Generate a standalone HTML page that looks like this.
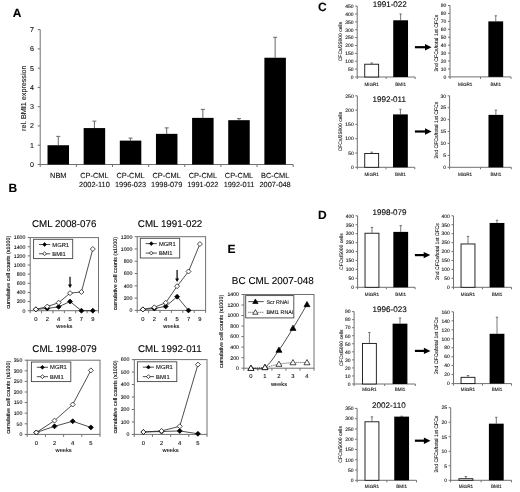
<!DOCTYPE html>
<html><head><meta charset="utf-8"><style>
html,body{margin:0;padding:0;background:#fff;}
svg{display:block;font-family:"Liberation Sans", sans-serif;text-rendering:geometricPrecision;filter:blur(0.3px);}
text{stroke:currentColor;stroke-width:0.1px;}
</style></head><body>
<svg width="520" height="492" viewBox="0 0 520 492">
<rect width="520" height="492" fill="#fff"/>
<text x="17" y="17.36" font-size="12" text-anchor="middle" font-weight="bold">A</text>
<line x1="40.2" y1="29.61" x2="40.2" y2="164.5" stroke="#707070" stroke-width="1"/>
<line x1="40.2" y1="164.5" x2="293.2" y2="164.5" stroke="#707070" stroke-width="1"/>
<line x1="37.7" y1="164.5" x2="40.2" y2="164.5" stroke="#707070" stroke-width="1"/>
<text x="34" y="167.02" font-size="7.1" text-anchor="end" fill="#111">0</text>
<line x1="37.7" y1="145.23" x2="40.2" y2="145.23" stroke="#707070" stroke-width="1"/>
<text x="34" y="147.75" font-size="7.1" text-anchor="end" fill="#111">1</text>
<line x1="37.7" y1="125.96" x2="40.2" y2="125.96" stroke="#707070" stroke-width="1"/>
<text x="34" y="128.48" font-size="7.1" text-anchor="end" fill="#111">2</text>
<line x1="37.7" y1="106.69" x2="40.2" y2="106.69" stroke="#707070" stroke-width="1"/>
<text x="34" y="109.21" font-size="7.1" text-anchor="end" fill="#111">3</text>
<line x1="37.7" y1="87.42" x2="40.2" y2="87.42" stroke="#707070" stroke-width="1"/>
<text x="34" y="89.94" font-size="7.1" text-anchor="end" fill="#111">4</text>
<line x1="37.7" y1="68.15" x2="40.2" y2="68.15" stroke="#707070" stroke-width="1"/>
<text x="34" y="70.67" font-size="7.1" text-anchor="end" fill="#111">5</text>
<line x1="37.7" y1="48.88" x2="40.2" y2="48.88" stroke="#707070" stroke-width="1"/>
<text x="34" y="51.4" font-size="7.1" text-anchor="end" fill="#111">6</text>
<line x1="37.7" y1="29.61" x2="40.2" y2="29.61" stroke="#707070" stroke-width="1"/>
<text x="34" y="32.13" font-size="7.1" text-anchor="end" fill="#111">7</text>
<line x1="40.2" y1="164.5" x2="40.2" y2="167" stroke="#707070" stroke-width="1"/>
<line x1="76.34" y1="164.5" x2="76.34" y2="167" stroke="#707070" stroke-width="1"/>
<line x1="112.49" y1="164.5" x2="112.49" y2="167" stroke="#707070" stroke-width="1"/>
<line x1="148.63" y1="164.5" x2="148.63" y2="167" stroke="#707070" stroke-width="1"/>
<line x1="184.77" y1="164.5" x2="184.77" y2="167" stroke="#707070" stroke-width="1"/>
<line x1="220.91" y1="164.5" x2="220.91" y2="167" stroke="#707070" stroke-width="1"/>
<line x1="257.06" y1="164.5" x2="257.06" y2="167" stroke="#707070" stroke-width="1"/>
<line x1="293.2" y1="164.5" x2="293.2" y2="167" stroke="#707070" stroke-width="1"/>
<line x1="58.27" y1="136.37" x2="58.27" y2="145.23" stroke="#666" stroke-width="1"/>
<line x1="56.27" y1="136.37" x2="60.27" y2="136.37" stroke="#666" stroke-width="1"/>
<rect x="47.52" y="145.23" width="21.5" height="19.27" fill="#000"/>
<text x="58.27" y="177.83" font-size="7.4" text-anchor="middle" fill="#111">NBM</text>
<line x1="94.41" y1="121.14" x2="94.41" y2="128.08" stroke="#666" stroke-width="1"/>
<line x1="92.41" y1="121.14" x2="96.41" y2="121.14" stroke="#666" stroke-width="1"/>
<rect x="83.66" y="128.08" width="21.5" height="36.42" fill="#000"/>
<text x="94.41" y="177.83" font-size="7.4" text-anchor="middle" fill="#111">CP-CML</text>
<text x="94.41" y="186.93" font-size="7.4" text-anchor="middle" fill="#111">2002-110</text>
<line x1="130.56" y1="138.1" x2="130.56" y2="140.61" stroke="#666" stroke-width="1"/>
<line x1="128.56" y1="138.1" x2="132.56" y2="138.1" stroke="#666" stroke-width="1"/>
<rect x="119.81" y="140.61" width="21.5" height="23.89" fill="#000"/>
<text x="130.56" y="177.83" font-size="7.4" text-anchor="middle" fill="#111">CP-CML</text>
<text x="130.56" y="186.93" font-size="7.4" text-anchor="middle" fill="#111">1996-023</text>
<line x1="166.7" y1="127.89" x2="166.7" y2="133.86" stroke="#666" stroke-width="1"/>
<line x1="164.7" y1="127.89" x2="168.7" y2="127.89" stroke="#666" stroke-width="1"/>
<rect x="155.95" y="133.86" width="21.5" height="30.64" fill="#000"/>
<text x="166.7" y="177.83" font-size="7.4" text-anchor="middle" fill="#111">CP-CML</text>
<text x="166.7" y="186.93" font-size="7.4" text-anchor="middle" fill="#111">1998-079</text>
<line x1="202.84" y1="109.39" x2="202.84" y2="117.87" stroke="#666" stroke-width="1"/>
<line x1="200.84" y1="109.39" x2="204.84" y2="109.39" stroke="#666" stroke-width="1"/>
<rect x="192.09" y="117.87" width="21.5" height="46.63" fill="#000"/>
<text x="202.84" y="177.83" font-size="7.4" text-anchor="middle" fill="#111">CP-CML</text>
<text x="202.84" y="186.93" font-size="7.4" text-anchor="middle" fill="#111">1991-022</text>
<line x1="238.99" y1="118.64" x2="238.99" y2="120.18" stroke="#666" stroke-width="1"/>
<line x1="236.99" y1="118.64" x2="240.99" y2="118.64" stroke="#666" stroke-width="1"/>
<rect x="228.24" y="120.18" width="21.5" height="44.32" fill="#000"/>
<text x="238.99" y="177.83" font-size="7.4" text-anchor="middle" fill="#111">CP-CML</text>
<text x="238.99" y="186.93" font-size="7.4" text-anchor="middle" fill="#111">1992-011</text>
<line x1="275.13" y1="37.32" x2="275.13" y2="57.74" stroke="#666" stroke-width="1"/>
<line x1="273.13" y1="37.32" x2="277.13" y2="37.32" stroke="#666" stroke-width="1"/>
<rect x="264.38" y="57.74" width="21.5" height="106.76" fill="#000"/>
<text x="275.13" y="177.83" font-size="7.4" text-anchor="middle" fill="#111">BC-CML</text>
<text x="275.13" y="186.93" font-size="7.4" text-anchor="middle" fill="#111">2007-048</text>
<text x="23.3" y="100.76" font-size="7.2" text-anchor="middle" transform="rotate(-90 23.3 98.2)" fill="#111">rel. BMI1 expression</text>
<text x="12.8" y="191.76" font-size="12" text-anchor="middle" font-weight="bold">B</text>
<rect x="30.2" y="237.6" width="68.3" height="73.1" fill="#fff" stroke="#707070" stroke-width="1"/>
<line x1="27.7" y1="310.7" x2="30.2" y2="310.7" stroke="#707070" stroke-width="1"/>
<text x="25.3" y="312.55" font-size="5.2" text-anchor="end" fill="#111">0</text>
<line x1="27.7" y1="301.56" x2="30.2" y2="301.56" stroke="#707070" stroke-width="1"/>
<text x="25.3" y="303.41" font-size="5.2" text-anchor="end" fill="#111">200</text>
<line x1="27.7" y1="292.43" x2="30.2" y2="292.43" stroke="#707070" stroke-width="1"/>
<text x="25.3" y="294.27" font-size="5.2" text-anchor="end" fill="#111">400</text>
<line x1="27.7" y1="283.29" x2="30.2" y2="283.29" stroke="#707070" stroke-width="1"/>
<text x="25.3" y="285.13" font-size="5.2" text-anchor="end" fill="#111">600</text>
<line x1="27.7" y1="274.15" x2="30.2" y2="274.15" stroke="#707070" stroke-width="1"/>
<text x="25.3" y="276" font-size="5.2" text-anchor="end" fill="#111">800</text>
<line x1="27.7" y1="265.01" x2="30.2" y2="265.01" stroke="#707070" stroke-width="1"/>
<text x="25.3" y="266.86" font-size="5.2" text-anchor="end" fill="#111">1000</text>
<line x1="27.7" y1="255.88" x2="30.2" y2="255.88" stroke="#707070" stroke-width="1"/>
<text x="25.3" y="257.72" font-size="5.2" text-anchor="end" fill="#111">1200</text>
<line x1="27.7" y1="246.74" x2="30.2" y2="246.74" stroke="#707070" stroke-width="1"/>
<text x="25.3" y="248.58" font-size="5.2" text-anchor="end" fill="#111">1400</text>
<line x1="27.7" y1="237.6" x2="30.2" y2="237.6" stroke="#707070" stroke-width="1"/>
<text x="25.3" y="239.45" font-size="5.2" text-anchor="end" fill="#111">1600</text>
<line x1="30.2" y1="310.7" x2="30.2" y2="313.2" stroke="#707070" stroke-width="1"/>
<line x1="41.58" y1="310.7" x2="41.58" y2="313.2" stroke="#707070" stroke-width="1"/>
<line x1="52.97" y1="310.7" x2="52.97" y2="313.2" stroke="#707070" stroke-width="1"/>
<line x1="64.35" y1="310.7" x2="64.35" y2="313.2" stroke="#707070" stroke-width="1"/>
<line x1="75.73" y1="310.7" x2="75.73" y2="313.2" stroke="#707070" stroke-width="1"/>
<line x1="87.12" y1="310.7" x2="87.12" y2="313.2" stroke="#707070" stroke-width="1"/>
<line x1="98.5" y1="310.7" x2="98.5" y2="313.2" stroke="#707070" stroke-width="1"/>
<text x="35.89" y="320.96" font-size="5.8" text-anchor="middle" fill="#111">0</text>
<text x="47.27" y="320.96" font-size="5.8" text-anchor="middle" fill="#111">2</text>
<text x="58.66" y="320.96" font-size="5.8" text-anchor="middle" fill="#111">4</text>
<text x="70.04" y="320.96" font-size="5.8" text-anchor="middle" fill="#111">5</text>
<text x="81.42" y="320.96" font-size="5.8" text-anchor="middle" fill="#111">7</text>
<text x="92.81" y="320.96" font-size="5.8" text-anchor="middle" fill="#111">9</text>
<text x="64.35" y="328.32" font-size="5.7" text-anchor="middle" fill="#111">weeks</text>
<text x="8.2" y="274.08" font-size="5.45" text-anchor="middle" transform="rotate(-90 8.2 272.15)" fill="#111">cumulative cell counts (x1000)</text>
<text x="64.2" y="226.68" font-size="9.8" text-anchor="middle">CML 2008-076</text>
<polyline points="35.89,309.33 47.27,308.42 58.66,306.82 70.04,301.56 81.42,310.7 92.81,310.7" fill="none" stroke="#222" stroke-width="0.8"/>
<polyline points="35.89,309.33 47.27,306.59 58.66,302.7 70.04,293.11 81.42,291.97 92.81,249.02" fill="none" stroke="#222" stroke-width="0.8"/>
<polygon points="35.89,306.83 38.39,309.33 35.89,311.83 33.39,309.33" fill="#000" stroke="#000" stroke-width="0.7"/>
<polygon points="47.27,305.92 49.77,308.42 47.27,310.92 44.77,308.42" fill="#000" stroke="#000" stroke-width="0.7"/>
<polygon points="58.66,304.32 61.16,306.82 58.66,309.32 56.16,306.82" fill="#000" stroke="#000" stroke-width="0.7"/>
<polygon points="70.04,299.06 72.54,301.56 70.04,304.06 67.54,301.56" fill="#000" stroke="#000" stroke-width="0.7"/>
<polygon points="81.42,308.2 83.92,310.7 81.42,313.2 78.92,310.7" fill="#000" stroke="#000" stroke-width="0.7"/>
<polygon points="92.81,308.2 95.31,310.7 92.81,313.2 90.31,310.7" fill="#000" stroke="#000" stroke-width="0.7"/>
<polygon points="35.89,306.83 38.39,309.33 35.89,311.83 33.39,309.33" fill="#fff" stroke="#000" stroke-width="0.7"/>
<polygon points="47.27,304.09 49.77,306.59 47.27,309.09 44.77,306.59" fill="#fff" stroke="#000" stroke-width="0.7"/>
<polygon points="58.66,300.2 61.16,302.7 58.66,305.2 56.16,302.7" fill="#fff" stroke="#000" stroke-width="0.7"/>
<polygon points="70.04,290.61 72.54,293.11 70.04,295.61 67.54,293.11" fill="#fff" stroke="#000" stroke-width="0.7"/>
<polygon points="81.42,289.47 83.92,291.97 81.42,294.47 78.92,291.97" fill="#fff" stroke="#000" stroke-width="0.7"/>
<polygon points="92.81,246.52 95.31,249.02 92.81,251.52 90.31,249.02" fill="#fff" stroke="#000" stroke-width="0.7"/>
<rect x="33.6" y="239.3" width="39.1" height="19.3" fill="#fff" stroke="#444" stroke-width="0.9"/>
<line x1="39" y1="244.51" x2="50.2" y2="244.51" stroke="#222" stroke-width="0.8"/>
<polygon points="44.6,242.61 46.5,244.51 44.6,246.41 42.7,244.51" fill="#000" stroke="#000" stroke-width="0.7"/>
<text x="52.3" y="246.57" font-size="5.8" text-anchor="start" fill="#111">MGR1</text>
<line x1="39" y1="253.78" x2="50.2" y2="253.78" stroke="#222" stroke-width="0.8"/>
<polygon points="44.6,251.88 46.5,253.78 44.6,255.68 42.7,253.78" fill="#fff" stroke="#000" stroke-width="0.7"/>
<text x="52.3" y="255.83" font-size="5.8" text-anchor="start" fill="#111">BMI1</text>
<line x1="70.04" y1="276.7" x2="70.04" y2="285" stroke="#000" stroke-width="1.2"/>
<polygon points="68.04,284.5 72.04,284.5 70.04,288" fill="#000" stroke="none" stroke-width="1"/>
<rect x="137.2" y="236.7" width="68.4" height="73.7" fill="#fff" stroke="#707070" stroke-width="1"/>
<line x1="134.7" y1="310.4" x2="137.2" y2="310.4" stroke="#707070" stroke-width="1"/>
<text x="132.3" y="312.25" font-size="5.2" text-anchor="end" fill="#111">0</text>
<line x1="134.7" y1="298.12" x2="137.2" y2="298.12" stroke="#707070" stroke-width="1"/>
<text x="132.3" y="299.96" font-size="5.2" text-anchor="end" fill="#111">200</text>
<line x1="134.7" y1="285.83" x2="137.2" y2="285.83" stroke="#707070" stroke-width="1"/>
<text x="132.3" y="287.68" font-size="5.2" text-anchor="end" fill="#111">400</text>
<line x1="134.7" y1="273.55" x2="137.2" y2="273.55" stroke="#707070" stroke-width="1"/>
<text x="132.3" y="275.4" font-size="5.2" text-anchor="end" fill="#111">600</text>
<line x1="134.7" y1="261.27" x2="137.2" y2="261.27" stroke="#707070" stroke-width="1"/>
<text x="132.3" y="263.11" font-size="5.2" text-anchor="end" fill="#111">800</text>
<line x1="134.7" y1="248.98" x2="137.2" y2="248.98" stroke="#707070" stroke-width="1"/>
<text x="132.3" y="250.83" font-size="5.2" text-anchor="end" fill="#111">1000</text>
<line x1="134.7" y1="236.7" x2="137.2" y2="236.7" stroke="#707070" stroke-width="1"/>
<text x="132.3" y="238.55" font-size="5.2" text-anchor="end" fill="#111">1200</text>
<line x1="137.2" y1="310.4" x2="137.2" y2="312.9" stroke="#707070" stroke-width="1"/>
<line x1="148.6" y1="310.4" x2="148.6" y2="312.9" stroke="#707070" stroke-width="1"/>
<line x1="160" y1="310.4" x2="160" y2="312.9" stroke="#707070" stroke-width="1"/>
<line x1="171.4" y1="310.4" x2="171.4" y2="312.9" stroke="#707070" stroke-width="1"/>
<line x1="182.8" y1="310.4" x2="182.8" y2="312.9" stroke="#707070" stroke-width="1"/>
<line x1="194.2" y1="310.4" x2="194.2" y2="312.9" stroke="#707070" stroke-width="1"/>
<line x1="205.6" y1="310.4" x2="205.6" y2="312.9" stroke="#707070" stroke-width="1"/>
<text x="142.9" y="320.66" font-size="5.8" text-anchor="middle" fill="#111">0</text>
<text x="154.3" y="320.66" font-size="5.8" text-anchor="middle" fill="#111">2</text>
<text x="165.7" y="320.66" font-size="5.8" text-anchor="middle" fill="#111">4</text>
<text x="177.1" y="320.66" font-size="5.8" text-anchor="middle" fill="#111">5</text>
<text x="188.5" y="320.66" font-size="5.8" text-anchor="middle" fill="#111">7</text>
<text x="199.9" y="320.66" font-size="5.8" text-anchor="middle" fill="#111">9</text>
<text x="171.4" y="328.02" font-size="5.7" text-anchor="middle" fill="#111">weeks</text>
<text x="115.1" y="275.48" font-size="5.45" text-anchor="middle" transform="rotate(-90 115.1 273.55)" fill="#111">cumulative cell counts (x1000)</text>
<text x="170.1" y="227.18" font-size="9.8" text-anchor="middle">CML 1991-022</text>
<polyline points="142.9,309.42 154.3,308.56 165.7,306.41 177.1,296.7 188.5,310.4" fill="none" stroke="#222" stroke-width="0.8"/>
<polyline points="142.9,309.42 154.3,307.33 165.7,302.78 177.1,286.2 188.5,271.52 199.9,244.07" fill="none" stroke="#222" stroke-width="0.8"/>
<polygon points="142.9,306.92 145.4,309.42 142.9,311.92 140.4,309.42" fill="#000" stroke="#000" stroke-width="0.7"/>
<polygon points="154.3,306.06 156.8,308.56 154.3,311.06 151.8,308.56" fill="#000" stroke="#000" stroke-width="0.7"/>
<polygon points="165.7,303.91 168.2,306.41 165.7,308.91 163.2,306.41" fill="#000" stroke="#000" stroke-width="0.7"/>
<polygon points="177.1,294.2 179.6,296.7 177.1,299.2 174.6,296.7" fill="#000" stroke="#000" stroke-width="0.7"/>
<polygon points="188.5,307.9 191,310.4 188.5,312.9 186,310.4" fill="#000" stroke="#000" stroke-width="0.7"/>
<polygon points="142.9,306.92 145.4,309.42 142.9,311.92 140.4,309.42" fill="#fff" stroke="#000" stroke-width="0.7"/>
<polygon points="154.3,304.83 156.8,307.33 154.3,309.83 151.8,307.33" fill="#fff" stroke="#000" stroke-width="0.7"/>
<polygon points="165.7,300.28 168.2,302.78 165.7,305.28 163.2,302.78" fill="#fff" stroke="#000" stroke-width="0.7"/>
<polygon points="177.1,283.7 179.6,286.2 177.1,288.7 174.6,286.2" fill="#fff" stroke="#000" stroke-width="0.7"/>
<polygon points="188.5,269.02 191,271.52 188.5,274.02 186,271.52" fill="#fff" stroke="#000" stroke-width="0.7"/>
<polygon points="199.9,241.57 202.4,244.07 199.9,246.57 197.4,244.07" fill="#fff" stroke="#000" stroke-width="0.7"/>
<rect x="140.3" y="238.3" width="39.4" height="19.7" fill="#fff" stroke="#444" stroke-width="0.9"/>
<line x1="145.7" y1="243.62" x2="156.9" y2="243.62" stroke="#222" stroke-width="0.8"/>
<polygon points="151.3,241.72 153.2,243.62 151.3,245.52 149.4,243.62" fill="#000" stroke="#000" stroke-width="0.7"/>
<text x="159" y="245.68" font-size="5.8" text-anchor="start" fill="#111">MGR1</text>
<line x1="145.7" y1="253.07" x2="156.9" y2="253.07" stroke="#222" stroke-width="0.8"/>
<polygon points="151.3,251.17 153.2,253.07 151.3,254.97 149.4,253.07" fill="#fff" stroke="#000" stroke-width="0.7"/>
<text x="159" y="255.13" font-size="5.8" text-anchor="start" fill="#111">BMI1</text>
<line x1="177.1" y1="270" x2="177.1" y2="279" stroke="#000" stroke-width="1.2"/>
<polygon points="175.1,278.5 179.1,278.5 177.1,282" fill="#000" stroke="none" stroke-width="1"/>
<rect x="27.2" y="360.2" width="72.8" height="74.2" fill="#fff" stroke="#707070" stroke-width="1"/>
<line x1="24.7" y1="434.4" x2="27.2" y2="434.4" stroke="#707070" stroke-width="1"/>
<text x="22.3" y="436.25" font-size="5.2" text-anchor="end" fill="#111">0</text>
<line x1="24.7" y1="423.8" x2="27.2" y2="423.8" stroke="#707070" stroke-width="1"/>
<text x="22.3" y="425.65" font-size="5.2" text-anchor="end" fill="#111">50</text>
<line x1="24.7" y1="413.2" x2="27.2" y2="413.2" stroke="#707070" stroke-width="1"/>
<text x="22.3" y="415.05" font-size="5.2" text-anchor="end" fill="#111">100</text>
<line x1="24.7" y1="402.6" x2="27.2" y2="402.6" stroke="#707070" stroke-width="1"/>
<text x="22.3" y="404.45" font-size="5.2" text-anchor="end" fill="#111">150</text>
<line x1="24.7" y1="392" x2="27.2" y2="392" stroke="#707070" stroke-width="1"/>
<text x="22.3" y="393.85" font-size="5.2" text-anchor="end" fill="#111">200</text>
<line x1="24.7" y1="381.4" x2="27.2" y2="381.4" stroke="#707070" stroke-width="1"/>
<text x="22.3" y="383.25" font-size="5.2" text-anchor="end" fill="#111">250</text>
<line x1="24.7" y1="370.8" x2="27.2" y2="370.8" stroke="#707070" stroke-width="1"/>
<text x="22.3" y="372.65" font-size="5.2" text-anchor="end" fill="#111">300</text>
<line x1="24.7" y1="360.2" x2="27.2" y2="360.2" stroke="#707070" stroke-width="1"/>
<text x="22.3" y="362.05" font-size="5.2" text-anchor="end" fill="#111">350</text>
<line x1="27.2" y1="434.4" x2="27.2" y2="436.9" stroke="#707070" stroke-width="1"/>
<line x1="45.4" y1="434.4" x2="45.4" y2="436.9" stroke="#707070" stroke-width="1"/>
<line x1="63.6" y1="434.4" x2="63.6" y2="436.9" stroke="#707070" stroke-width="1"/>
<line x1="81.8" y1="434.4" x2="81.8" y2="436.9" stroke="#707070" stroke-width="1"/>
<line x1="100" y1="434.4" x2="100" y2="436.9" stroke="#707070" stroke-width="1"/>
<text x="36.3" y="444.66" font-size="5.8" text-anchor="middle" fill="#111">0</text>
<text x="54.5" y="444.66" font-size="5.8" text-anchor="middle" fill="#111">2</text>
<text x="72.7" y="444.66" font-size="5.8" text-anchor="middle" fill="#111">4</text>
<text x="90.9" y="444.66" font-size="5.8" text-anchor="middle" fill="#111">5</text>
<text x="63.6" y="452.02" font-size="5.7" text-anchor="middle" fill="#111">weeks</text>
<text x="7.7" y="399.23" font-size="5.45" text-anchor="middle" transform="rotate(-90 7.7 397.3)" fill="#111">cumulative cell counts (x1000)</text>
<text x="64.6" y="351.88" font-size="9.8" text-anchor="middle">CML 1998-079</text>
<polyline points="36.3,432.49 54.5,426.34 72.7,421.26 90.9,427.4" fill="none" stroke="#222" stroke-width="0.8"/>
<polyline points="36.3,432.49 54.5,420.62 72.7,404.51 90.9,370.38" fill="none" stroke="#222" stroke-width="0.8"/>
<polygon points="36.3,429.99 38.8,432.49 36.3,434.99 33.8,432.49" fill="#000" stroke="#000" stroke-width="0.7"/>
<polygon points="54.5,423.84 57,426.34 54.5,428.84 52,426.34" fill="#000" stroke="#000" stroke-width="0.7"/>
<polygon points="72.7,418.76 75.2,421.26 72.7,423.76 70.2,421.26" fill="#000" stroke="#000" stroke-width="0.7"/>
<polygon points="90.9,424.9 93.4,427.4 90.9,429.9 88.4,427.4" fill="#000" stroke="#000" stroke-width="0.7"/>
<polygon points="36.3,429.99 38.8,432.49 36.3,434.99 33.8,432.49" fill="#fff" stroke="#000" stroke-width="0.7"/>
<polygon points="54.5,418.12 57,420.62 54.5,423.12 52,420.62" fill="#fff" stroke="#000" stroke-width="0.7"/>
<polygon points="72.7,402.01 75.2,404.51 72.7,407.01 70.2,404.51" fill="#fff" stroke="#000" stroke-width="0.7"/>
<polygon points="90.9,367.88 93.4,370.38 90.9,372.88 88.4,370.38" fill="#fff" stroke="#000" stroke-width="0.7"/>
<rect x="31.4" y="362" width="39.4" height="19.6" fill="#fff" stroke="#444" stroke-width="0.9"/>
<line x1="36.8" y1="367.29" x2="48" y2="367.29" stroke="#222" stroke-width="0.8"/>
<polygon points="42.4,365.39 44.3,367.29 42.4,369.19 40.5,367.29" fill="#000" stroke="#000" stroke-width="0.7"/>
<text x="50.1" y="369.35" font-size="5.8" text-anchor="start" fill="#111">MGR1</text>
<line x1="36.8" y1="376.7" x2="48" y2="376.7" stroke="#222" stroke-width="0.8"/>
<polygon points="42.4,374.8 44.3,376.7 42.4,378.6 40.5,376.7" fill="#fff" stroke="#000" stroke-width="0.7"/>
<text x="50.1" y="378.76" font-size="5.8" text-anchor="start" fill="#111">BMI1</text>
<rect x="134.3" y="359.6" width="72.7" height="74.8" fill="#fff" stroke="#707070" stroke-width="1"/>
<line x1="131.8" y1="434.4" x2="134.3" y2="434.4" stroke="#707070" stroke-width="1"/>
<text x="129.4" y="436.25" font-size="5.2" text-anchor="end" fill="#111">0</text>
<line x1="131.8" y1="421.93" x2="134.3" y2="421.93" stroke="#707070" stroke-width="1"/>
<text x="129.4" y="423.78" font-size="5.2" text-anchor="end" fill="#111">100</text>
<line x1="131.8" y1="409.47" x2="134.3" y2="409.47" stroke="#707070" stroke-width="1"/>
<text x="129.4" y="411.31" font-size="5.2" text-anchor="end" fill="#111">200</text>
<line x1="131.8" y1="397" x2="134.3" y2="397" stroke="#707070" stroke-width="1"/>
<text x="129.4" y="398.85" font-size="5.2" text-anchor="end" fill="#111">300</text>
<line x1="131.8" y1="384.53" x2="134.3" y2="384.53" stroke="#707070" stroke-width="1"/>
<text x="129.4" y="386.38" font-size="5.2" text-anchor="end" fill="#111">400</text>
<line x1="131.8" y1="372.07" x2="134.3" y2="372.07" stroke="#707070" stroke-width="1"/>
<text x="129.4" y="373.91" font-size="5.2" text-anchor="end" fill="#111">500</text>
<line x1="131.8" y1="359.6" x2="134.3" y2="359.6" stroke="#707070" stroke-width="1"/>
<text x="129.4" y="361.45" font-size="5.2" text-anchor="end" fill="#111">600</text>
<line x1="134.3" y1="434.4" x2="134.3" y2="436.9" stroke="#707070" stroke-width="1"/>
<line x1="152.48" y1="434.4" x2="152.48" y2="436.9" stroke="#707070" stroke-width="1"/>
<line x1="170.65" y1="434.4" x2="170.65" y2="436.9" stroke="#707070" stroke-width="1"/>
<line x1="188.82" y1="434.4" x2="188.82" y2="436.9" stroke="#707070" stroke-width="1"/>
<line x1="207" y1="434.4" x2="207" y2="436.9" stroke="#707070" stroke-width="1"/>
<text x="143.39" y="444.66" font-size="5.8" text-anchor="middle" fill="#111">0</text>
<text x="161.56" y="444.66" font-size="5.8" text-anchor="middle" fill="#111">2</text>
<text x="179.74" y="444.66" font-size="5.8" text-anchor="middle" fill="#111">4</text>
<text x="197.91" y="444.66" font-size="5.8" text-anchor="middle" fill="#111">5</text>
<text x="170.65" y="452.02" font-size="5.7" text-anchor="middle" fill="#111">weeks</text>
<text x="115.5" y="398.93" font-size="5.45" text-anchor="middle" transform="rotate(-90 115.5 397)" fill="#111">cumulative cell counts (x1000)</text>
<text x="169.9" y="352.18" font-size="9.8" text-anchor="middle">CML 1992-011</text>
<polyline points="143.39,432.03 161.56,431.53 179.74,430.91 197.91,433.78" fill="none" stroke="#222" stroke-width="0.8"/>
<polyline points="143.39,432.03 161.56,430.91 179.74,426.3 197.91,364.59" fill="none" stroke="#222" stroke-width="0.8"/>
<polygon points="143.39,429.53 145.89,432.03 143.39,434.53 140.89,432.03" fill="#000" stroke="#000" stroke-width="0.7"/>
<polygon points="161.56,429.03 164.06,431.53 161.56,434.03 159.06,431.53" fill="#000" stroke="#000" stroke-width="0.7"/>
<polygon points="179.74,428.41 182.24,430.91 179.74,433.41 177.24,430.91" fill="#000" stroke="#000" stroke-width="0.7"/>
<polygon points="197.91,431.28 200.41,433.78 197.91,436.28 195.41,433.78" fill="#000" stroke="#000" stroke-width="0.7"/>
<polygon points="143.39,429.53 145.89,432.03 143.39,434.53 140.89,432.03" fill="#fff" stroke="#000" stroke-width="0.7"/>
<polygon points="161.56,428.41 164.06,430.91 161.56,433.41 159.06,430.91" fill="#fff" stroke="#000" stroke-width="0.7"/>
<polygon points="179.74,423.8 182.24,426.3 179.74,428.8 177.24,426.3" fill="#fff" stroke="#000" stroke-width="0.7"/>
<polygon points="197.91,362.09 200.41,364.59 197.91,367.09 195.41,364.59" fill="#fff" stroke="#000" stroke-width="0.7"/>
<rect x="137.4" y="361.8" width="39.4" height="19.8" fill="#fff" stroke="#444" stroke-width="0.9"/>
<line x1="142.8" y1="367.15" x2="154" y2="367.15" stroke="#222" stroke-width="0.8"/>
<polygon points="148.4,365.25 150.3,367.15 148.4,369.05 146.5,367.15" fill="#000" stroke="#000" stroke-width="0.7"/>
<text x="156.1" y="369.21" font-size="5.8" text-anchor="start" fill="#111">MGR1</text>
<line x1="142.8" y1="376.65" x2="154" y2="376.65" stroke="#222" stroke-width="0.8"/>
<polygon points="148.4,374.75 150.3,376.65 148.4,378.55 146.5,376.65" fill="#fff" stroke="#000" stroke-width="0.7"/>
<text x="156.1" y="378.71" font-size="5.8" text-anchor="start" fill="#111">BMI1</text>
<text x="231.6" y="252.76" font-size="12" text-anchor="middle" font-weight="bold">E</text>
<rect x="243.9" y="294.5" width="70.1" height="73.7" fill="#fff" stroke="#707070" stroke-width="1"/>
<line x1="241.4" y1="368.2" x2="243.9" y2="368.2" stroke="#707070" stroke-width="1"/>
<text x="239" y="370.05" font-size="5.2" text-anchor="end" fill="#111">0</text>
<line x1="241.4" y1="357.67" x2="243.9" y2="357.67" stroke="#707070" stroke-width="1"/>
<text x="239" y="359.52" font-size="5.2" text-anchor="end" fill="#111">200</text>
<line x1="241.4" y1="347.14" x2="243.9" y2="347.14" stroke="#707070" stroke-width="1"/>
<text x="239" y="348.99" font-size="5.2" text-anchor="end" fill="#111">400</text>
<line x1="241.4" y1="336.61" x2="243.9" y2="336.61" stroke="#707070" stroke-width="1"/>
<text x="239" y="338.46" font-size="5.2" text-anchor="end" fill="#111">600</text>
<line x1="241.4" y1="326.09" x2="243.9" y2="326.09" stroke="#707070" stroke-width="1"/>
<text x="239" y="327.93" font-size="5.2" text-anchor="end" fill="#111">800</text>
<line x1="241.4" y1="315.56" x2="243.9" y2="315.56" stroke="#707070" stroke-width="1"/>
<text x="239" y="317.4" font-size="5.2" text-anchor="end" fill="#111">1000</text>
<line x1="241.4" y1="305.03" x2="243.9" y2="305.03" stroke="#707070" stroke-width="1"/>
<text x="239" y="306.87" font-size="5.2" text-anchor="end" fill="#111">1200</text>
<line x1="241.4" y1="294.5" x2="243.9" y2="294.5" stroke="#707070" stroke-width="1"/>
<text x="239" y="296.35" font-size="5.2" text-anchor="end" fill="#111">1400</text>
<line x1="243.9" y1="368.2" x2="243.9" y2="370.7" stroke="#707070" stroke-width="1"/>
<line x1="257.92" y1="368.2" x2="257.92" y2="370.7" stroke="#707070" stroke-width="1"/>
<line x1="271.94" y1="368.2" x2="271.94" y2="370.7" stroke="#707070" stroke-width="1"/>
<line x1="285.96" y1="368.2" x2="285.96" y2="370.7" stroke="#707070" stroke-width="1"/>
<line x1="299.98" y1="368.2" x2="299.98" y2="370.7" stroke="#707070" stroke-width="1"/>
<line x1="314" y1="368.2" x2="314" y2="370.7" stroke="#707070" stroke-width="1"/>
<text x="250.91" y="378.46" font-size="5.8" text-anchor="middle" fill="#111">0</text>
<text x="264.93" y="378.46" font-size="5.8" text-anchor="middle" fill="#111">1</text>
<text x="278.95" y="378.46" font-size="5.8" text-anchor="middle" fill="#111">2</text>
<text x="292.97" y="378.46" font-size="5.8" text-anchor="middle" fill="#111">3</text>
<text x="306.99" y="378.46" font-size="5.8" text-anchor="middle" fill="#111">4</text>
<text x="278.95" y="385.82" font-size="5.7" text-anchor="middle" fill="#111">weeks</text>
<text x="221" y="333.28" font-size="5.45" text-anchor="middle" transform="rotate(-90 221 331.35)" fill="#111">cumulative cell counts (x1000)</text>
<text x="272.8" y="284.13" font-size="9.95" text-anchor="middle">BC CML 2007-048</text>
<path d="M250.91,368.2 C253.25,368.07 260.26,370.42 264.93,367.41 C269.6,364.4 274.28,356.68 278.95,350.14 C283.62,343.61 288.3,335.8 292.97,328.19 C297.64,320.58 304.65,308.45 306.99,304.5" fill="none" stroke="#222" stroke-width="0.8"/>
<path d="M250.91,368.2 C253.25,368.07 260.26,368.09 264.93,367.41 C269.6,366.73 274.28,364.95 278.95,364.15 C283.62,363.34 288.3,362.83 292.97,362.57 C297.64,362.3 304.65,362.57 306.99,362.57" fill="none" stroke="#222" stroke-width="0.8" stroke-dasharray="1,1"/>
<polygon points="250.91,365.18 253.94,370.4 247.88,370.4" fill="#000" stroke="#000" stroke-width="0.7"/>
<polygon points="264.93,364.39 267.95,369.61 261.91,369.61" fill="#000" stroke="#000" stroke-width="0.7"/>
<polygon points="278.95,347.12 281.97,352.34 275.93,352.34" fill="#000" stroke="#000" stroke-width="0.7"/>
<polygon points="292.97,325.17 296,330.39 289.95,330.39" fill="#000" stroke="#000" stroke-width="0.7"/>
<polygon points="306.99,301.48 310.01,306.7 303.97,306.7" fill="#000" stroke="#000" stroke-width="0.7"/>
<polygon points="250.91,365.18 253.94,370.4 247.88,370.4" fill="#fff" stroke="#000" stroke-width="0.7"/>
<polygon points="264.93,364.39 267.95,369.61 261.91,369.61" fill="#fff" stroke="#000" stroke-width="0.7"/>
<polygon points="278.95,361.12 281.97,366.35 275.93,366.35" fill="#fff" stroke="#000" stroke-width="0.7"/>
<polygon points="292.97,359.54 296,364.77 289.95,364.77" fill="#fff" stroke="#000" stroke-width="0.7"/>
<polygon points="306.99,359.54 310.01,364.77 303.97,364.77" fill="#fff" stroke="#000" stroke-width="0.7"/>
<rect x="245.7" y="295.6" width="48.1" height="22.3" fill="#fff" stroke="#444" stroke-width="0.9"/>
<line x1="248.3" y1="301.62" x2="263.7" y2="301.62" stroke="#222" stroke-width="0.8"/>
<polygon points="255.4,298.98 258.04,303.54 252.76,303.54" fill="#000" stroke="#000" stroke-width="0.7"/>
<text x="266.5" y="303.54" font-size="5.4" text-anchor="start" fill="#111">Scr RNAi</text>
<line x1="248.3" y1="312.32" x2="263.7" y2="312.32" stroke="#222" stroke-width="0.8" stroke-dasharray="1,1"/>
<polygon points="255.4,309.69 258.04,314.25 252.76,314.25" fill="#fff" stroke="#000" stroke-width="0.7"/>
<text x="266.5" y="314.24" font-size="5.4" text-anchor="start" fill="#111">BMI1 RNAi</text>
<text x="322.3" y="10.86" font-size="12" text-anchor="middle" font-weight="bold">C</text>
<text x="322.4" y="218.66" font-size="12" text-anchor="middle" font-weight="bold">D</text>
<line x1="357.2" y1="6.1" x2="357.2" y2="77" stroke="#707070" stroke-width="1"/>
<line x1="357.2" y1="77" x2="415.1" y2="77" stroke="#707070" stroke-width="1"/>
<line x1="355.2" y1="77" x2="357.2" y2="77" stroke="#707070" stroke-width="1"/>
<text x="353.6" y="78.78" font-size="5" text-anchor="end" fill="#222">0</text>
<line x1="355.2" y1="69.12" x2="357.2" y2="69.12" stroke="#707070" stroke-width="1"/>
<text x="353.6" y="70.9" font-size="5" text-anchor="end" fill="#222">50</text>
<line x1="355.2" y1="61.24" x2="357.2" y2="61.24" stroke="#707070" stroke-width="1"/>
<text x="353.6" y="63.02" font-size="5" text-anchor="end" fill="#222">100</text>
<line x1="355.2" y1="53.37" x2="357.2" y2="53.37" stroke="#707070" stroke-width="1"/>
<text x="353.6" y="55.14" font-size="5" text-anchor="end" fill="#222">150</text>
<line x1="355.2" y1="45.49" x2="357.2" y2="45.49" stroke="#707070" stroke-width="1"/>
<text x="353.6" y="47.26" font-size="5" text-anchor="end" fill="#222">200</text>
<line x1="355.2" y1="37.61" x2="357.2" y2="37.61" stroke="#707070" stroke-width="1"/>
<text x="353.6" y="39.39" font-size="5" text-anchor="end" fill="#222">250</text>
<line x1="355.2" y1="29.73" x2="357.2" y2="29.73" stroke="#707070" stroke-width="1"/>
<text x="353.6" y="31.51" font-size="5" text-anchor="end" fill="#222">300</text>
<line x1="355.2" y1="21.86" x2="357.2" y2="21.86" stroke="#707070" stroke-width="1"/>
<text x="353.6" y="23.63" font-size="5" text-anchor="end" fill="#222">350</text>
<line x1="355.2" y1="13.98" x2="357.2" y2="13.98" stroke="#707070" stroke-width="1"/>
<text x="353.6" y="15.75" font-size="5" text-anchor="end" fill="#222">400</text>
<line x1="355.2" y1="6.1" x2="357.2" y2="6.1" stroke="#707070" stroke-width="1"/>
<text x="353.6" y="7.87" font-size="5" text-anchor="end" fill="#222">450</text>
<line x1="357.2" y1="77" x2="357.2" y2="79" stroke="#707070" stroke-width="1"/>
<line x1="386.15" y1="77" x2="386.15" y2="79" stroke="#707070" stroke-width="1"/>
<line x1="415.1" y1="77" x2="415.1" y2="79" stroke="#707070" stroke-width="1"/>
<line x1="371.68" y1="62.98" x2="371.68" y2="63.77" stroke="#555" stroke-width="0.8"/>
<line x1="370.48" y1="62.98" x2="372.88" y2="62.98" stroke="#555" stroke-width="0.8"/>
<rect x="364.73" y="64.22" width="13.9" height="12.78" fill="#fff" stroke="#111" stroke-width="0.9"/>
<line x1="400.62" y1="13.98" x2="400.62" y2="20.28" stroke="#555" stroke-width="0.8"/>
<line x1="399.43" y1="13.98" x2="401.82" y2="13.98" stroke="#555" stroke-width="0.8"/>
<rect x="393.23" y="20.28" width="14.8" height="56.72" fill="#000"/>
<text x="371.68" y="85.63" font-size="4.6" text-anchor="middle" fill="#222">MiGR1</text>
<text x="400.62" y="85.63" font-size="4.6" text-anchor="middle" fill="#222">BMI1</text>
<text x="340.5" y="43.32" font-size="5" text-anchor="middle" transform="rotate(-90 340.5 41.55)" fill="#222">CFCs/25000 cells</text>
<line x1="450" y1="5.5" x2="450" y2="76.9" stroke="#707070" stroke-width="1"/>
<line x1="450" y1="76.9" x2="511" y2="76.9" stroke="#707070" stroke-width="1"/>
<line x1="448" y1="76.9" x2="450" y2="76.9" stroke="#707070" stroke-width="1"/>
<text x="446.4" y="78.68" font-size="5" text-anchor="end" fill="#222">0</text>
<line x1="448" y1="68.97" x2="450" y2="68.97" stroke="#707070" stroke-width="1"/>
<text x="446.4" y="70.74" font-size="5" text-anchor="end" fill="#222">10</text>
<line x1="448" y1="61.03" x2="450" y2="61.03" stroke="#707070" stroke-width="1"/>
<text x="446.4" y="62.81" font-size="5" text-anchor="end" fill="#222">20</text>
<line x1="448" y1="53.1" x2="450" y2="53.1" stroke="#707070" stroke-width="1"/>
<text x="446.4" y="54.88" font-size="5" text-anchor="end" fill="#222">30</text>
<line x1="448" y1="45.17" x2="450" y2="45.17" stroke="#707070" stroke-width="1"/>
<text x="446.4" y="46.94" font-size="5" text-anchor="end" fill="#222">40</text>
<line x1="448" y1="37.23" x2="450" y2="37.23" stroke="#707070" stroke-width="1"/>
<text x="446.4" y="39.01" font-size="5" text-anchor="end" fill="#222">50</text>
<line x1="448" y1="29.3" x2="450" y2="29.3" stroke="#707070" stroke-width="1"/>
<text x="446.4" y="31.08" font-size="5" text-anchor="end" fill="#222">60</text>
<line x1="448" y1="21.37" x2="450" y2="21.37" stroke="#707070" stroke-width="1"/>
<text x="446.4" y="23.14" font-size="5" text-anchor="end" fill="#222">70</text>
<line x1="448" y1="13.43" x2="450" y2="13.43" stroke="#707070" stroke-width="1"/>
<text x="446.4" y="15.21" font-size="5" text-anchor="end" fill="#222">80</text>
<line x1="448" y1="5.5" x2="450" y2="5.5" stroke="#707070" stroke-width="1"/>
<text x="446.4" y="7.28" font-size="5" text-anchor="end" fill="#222">90</text>
<line x1="450" y1="76.9" x2="450" y2="78.9" stroke="#707070" stroke-width="1"/>
<line x1="480.5" y1="76.9" x2="480.5" y2="78.9" stroke="#707070" stroke-width="1"/>
<line x1="511" y1="76.9" x2="511" y2="78.9" stroke="#707070" stroke-width="1"/>
<line x1="495.75" y1="15.81" x2="495.75" y2="21.37" stroke="#555" stroke-width="0.8"/>
<line x1="494.55" y1="15.81" x2="496.95" y2="15.81" stroke="#555" stroke-width="0.8"/>
<rect x="488.35" y="21.37" width="14.8" height="55.53" fill="#000"/>
<text x="465.25" y="86.03" font-size="4.6" text-anchor="middle" fill="#222">MiGR1</text>
<text x="495.75" y="86.03" font-size="4.6" text-anchor="middle" fill="#222">BMI1</text>
<text x="436.5" y="45.02" font-size="5.12" text-anchor="middle" transform="rotate(-90 436.5 43.2)" fill="#222">2nd CFCs/total 1st CFCs</text>
<text x="389.75" y="6.88" font-size="8.1" text-anchor="middle">1991-022</text>
<line x1="414.9" y1="47.2" x2="426.6" y2="47.2" stroke="#000" stroke-width="2.2"/>
<polygon points="425,44 431.6,47.2 425,50.4" fill="#000" stroke="none" stroke-width="1"/>
<line x1="357.3" y1="95.8" x2="357.3" y2="167.3" stroke="#707070" stroke-width="1"/>
<line x1="357.3" y1="167.3" x2="414.8" y2="167.3" stroke="#707070" stroke-width="1"/>
<line x1="355.3" y1="167.3" x2="357.3" y2="167.3" stroke="#707070" stroke-width="1"/>
<text x="353.7" y="169.08" font-size="5" text-anchor="end" fill="#222">0</text>
<line x1="355.3" y1="153" x2="357.3" y2="153" stroke="#707070" stroke-width="1"/>
<text x="353.7" y="154.78" font-size="5" text-anchor="end" fill="#222">50</text>
<line x1="355.3" y1="138.7" x2="357.3" y2="138.7" stroke="#707070" stroke-width="1"/>
<text x="353.7" y="140.48" font-size="5" text-anchor="end" fill="#222">100</text>
<line x1="355.3" y1="124.4" x2="357.3" y2="124.4" stroke="#707070" stroke-width="1"/>
<text x="353.7" y="126.18" font-size="5" text-anchor="end" fill="#222">150</text>
<line x1="355.3" y1="110.1" x2="357.3" y2="110.1" stroke="#707070" stroke-width="1"/>
<text x="353.7" y="111.88" font-size="5" text-anchor="end" fill="#222">200</text>
<line x1="355.3" y1="95.8" x2="357.3" y2="95.8" stroke="#707070" stroke-width="1"/>
<text x="353.7" y="97.58" font-size="5" text-anchor="end" fill="#222">250</text>
<line x1="357.3" y1="167.3" x2="357.3" y2="169.3" stroke="#707070" stroke-width="1"/>
<line x1="386.05" y1="167.3" x2="386.05" y2="169.3" stroke="#707070" stroke-width="1"/>
<line x1="414.8" y1="167.3" x2="414.8" y2="169.3" stroke="#707070" stroke-width="1"/>
<line x1="371.68" y1="152.14" x2="371.68" y2="153" stroke="#555" stroke-width="0.8"/>
<line x1="370.48" y1="152.14" x2="372.88" y2="152.14" stroke="#555" stroke-width="0.8"/>
<rect x="364.73" y="153.45" width="13.9" height="13.85" fill="#fff" stroke="#111" stroke-width="0.9"/>
<line x1="400.43" y1="109.24" x2="400.43" y2="114.39" stroke="#555" stroke-width="0.8"/>
<line x1="399.23" y1="109.24" x2="401.62" y2="109.24" stroke="#555" stroke-width="0.8"/>
<rect x="393.03" y="114.39" width="14.8" height="52.91" fill="#000"/>
<text x="371.68" y="175.83" font-size="4.6" text-anchor="middle" fill="#222">MiGR1</text>
<text x="400.43" y="175.83" font-size="4.6" text-anchor="middle" fill="#222">BMI1</text>
<text x="340.6" y="133.33" font-size="5" text-anchor="middle" transform="rotate(-90 340.6 131.55)" fill="#222">CFCs/25000 cells</text>
<line x1="449.6" y1="95.8" x2="449.6" y2="167.3" stroke="#707070" stroke-width="1"/>
<line x1="449.6" y1="167.3" x2="511.3" y2="167.3" stroke="#707070" stroke-width="1"/>
<line x1="447.6" y1="167.3" x2="449.6" y2="167.3" stroke="#707070" stroke-width="1"/>
<text x="446" y="169.08" font-size="5" text-anchor="end" fill="#222">0</text>
<line x1="447.6" y1="155.38" x2="449.6" y2="155.38" stroke="#707070" stroke-width="1"/>
<text x="446" y="157.16" font-size="5" text-anchor="end" fill="#222">5</text>
<line x1="447.6" y1="143.47" x2="449.6" y2="143.47" stroke="#707070" stroke-width="1"/>
<text x="446" y="145.24" font-size="5" text-anchor="end" fill="#222">10</text>
<line x1="447.6" y1="131.55" x2="449.6" y2="131.55" stroke="#707070" stroke-width="1"/>
<text x="446" y="133.33" font-size="5" text-anchor="end" fill="#222">15</text>
<line x1="447.6" y1="119.63" x2="449.6" y2="119.63" stroke="#707070" stroke-width="1"/>
<text x="446" y="121.41" font-size="5" text-anchor="end" fill="#222">20</text>
<line x1="447.6" y1="107.72" x2="449.6" y2="107.72" stroke="#707070" stroke-width="1"/>
<text x="446" y="109.49" font-size="5" text-anchor="end" fill="#222">25</text>
<line x1="447.6" y1="95.8" x2="449.6" y2="95.8" stroke="#707070" stroke-width="1"/>
<text x="446" y="97.58" font-size="5" text-anchor="end" fill="#222">30</text>
<line x1="449.6" y1="167.3" x2="449.6" y2="169.3" stroke="#707070" stroke-width="1"/>
<line x1="480.45" y1="167.3" x2="480.45" y2="169.3" stroke="#707070" stroke-width="1"/>
<line x1="511.3" y1="167.3" x2="511.3" y2="169.3" stroke="#707070" stroke-width="1"/>
<line x1="495.88" y1="110.1" x2="495.88" y2="114.87" stroke="#555" stroke-width="0.8"/>
<line x1="494.68" y1="110.1" x2="497.07" y2="110.1" stroke="#555" stroke-width="0.8"/>
<rect x="488.48" y="114.87" width="14.8" height="52.43" fill="#000"/>
<text x="465.03" y="175.83" font-size="4.6" text-anchor="middle" fill="#222">MiGR1</text>
<text x="495.88" y="175.83" font-size="4.6" text-anchor="middle" fill="#222">BMI1</text>
<text x="436" y="131.87" font-size="5.12" text-anchor="middle" transform="rotate(-90 436 130.05)" fill="#222">2nd CFCs/total 1st CFCs</text>
<text x="389.2" y="102.08" font-size="8.1" text-anchor="middle">1992-011</text>
<line x1="414.9" y1="131.5" x2="426.6" y2="131.5" stroke="#000" stroke-width="2.2"/>
<polygon points="425,128.3 431.6,131.5 425,134.7" fill="#000" stroke="none" stroke-width="1"/>
<line x1="357.6" y1="215.8" x2="357.6" y2="287.3" stroke="#707070" stroke-width="1"/>
<line x1="357.6" y1="287.3" x2="415.1" y2="287.3" stroke="#707070" stroke-width="1"/>
<line x1="355.6" y1="287.3" x2="357.6" y2="287.3" stroke="#707070" stroke-width="1"/>
<text x="354" y="289.07" font-size="5" text-anchor="end" fill="#222">0</text>
<line x1="355.6" y1="278.36" x2="357.6" y2="278.36" stroke="#707070" stroke-width="1"/>
<text x="354" y="280.14" font-size="5" text-anchor="end" fill="#222">50</text>
<line x1="355.6" y1="269.43" x2="357.6" y2="269.43" stroke="#707070" stroke-width="1"/>
<text x="354" y="271.2" font-size="5" text-anchor="end" fill="#222">100</text>
<line x1="355.6" y1="260.49" x2="357.6" y2="260.49" stroke="#707070" stroke-width="1"/>
<text x="354" y="262.26" font-size="5" text-anchor="end" fill="#222">150</text>
<line x1="355.6" y1="251.55" x2="357.6" y2="251.55" stroke="#707070" stroke-width="1"/>
<text x="354" y="253.33" font-size="5" text-anchor="end" fill="#222">200</text>
<line x1="355.6" y1="242.61" x2="357.6" y2="242.61" stroke="#707070" stroke-width="1"/>
<text x="354" y="244.39" font-size="5" text-anchor="end" fill="#222">250</text>
<line x1="355.6" y1="233.68" x2="357.6" y2="233.68" stroke="#707070" stroke-width="1"/>
<text x="354" y="235.45" font-size="5" text-anchor="end" fill="#222">300</text>
<line x1="355.6" y1="224.74" x2="357.6" y2="224.74" stroke="#707070" stroke-width="1"/>
<text x="354" y="226.51" font-size="5" text-anchor="end" fill="#222">350</text>
<line x1="355.6" y1="215.8" x2="357.6" y2="215.8" stroke="#707070" stroke-width="1"/>
<text x="354" y="217.58" font-size="5" text-anchor="end" fill="#222">400</text>
<line x1="357.6" y1="287.3" x2="357.6" y2="289.3" stroke="#707070" stroke-width="1"/>
<line x1="386.35" y1="287.3" x2="386.35" y2="289.3" stroke="#707070" stroke-width="1"/>
<line x1="415.1" y1="287.3" x2="415.1" y2="289.3" stroke="#707070" stroke-width="1"/>
<line x1="371.98" y1="227.42" x2="371.98" y2="232.78" stroke="#555" stroke-width="0.8"/>
<line x1="370.78" y1="227.42" x2="373.18" y2="227.42" stroke="#555" stroke-width="0.8"/>
<rect x="365.03" y="233.23" width="13.9" height="54.07" fill="#fff" stroke="#111" stroke-width="0.9"/>
<line x1="400.73" y1="225.63" x2="400.73" y2="231.89" stroke="#555" stroke-width="0.8"/>
<line x1="399.53" y1="225.63" x2="401.93" y2="225.63" stroke="#555" stroke-width="0.8"/>
<rect x="393.33" y="231.89" width="14.8" height="55.41" fill="#000"/>
<text x="371.98" y="295.93" font-size="4.6" text-anchor="middle" fill="#222">MiGR1</text>
<text x="400.73" y="295.93" font-size="4.6" text-anchor="middle" fill="#222">BMI1</text>
<text x="340.9" y="253.33" font-size="5" text-anchor="middle" transform="rotate(-90 340.9 251.55)" fill="#222">CFCs/5000 cells</text>
<line x1="453.5" y1="215.8" x2="453.5" y2="287.3" stroke="#707070" stroke-width="1"/>
<line x1="453.5" y1="287.3" x2="511.5" y2="287.3" stroke="#707070" stroke-width="1"/>
<line x1="451.5" y1="287.3" x2="453.5" y2="287.3" stroke="#707070" stroke-width="1"/>
<text x="449.9" y="289.07" font-size="5" text-anchor="end" fill="#222">0</text>
<line x1="451.5" y1="278.36" x2="453.5" y2="278.36" stroke="#707070" stroke-width="1"/>
<text x="449.9" y="280.14" font-size="5" text-anchor="end" fill="#222">50</text>
<line x1="451.5" y1="269.43" x2="453.5" y2="269.43" stroke="#707070" stroke-width="1"/>
<text x="449.9" y="271.2" font-size="5" text-anchor="end" fill="#222">100</text>
<line x1="451.5" y1="260.49" x2="453.5" y2="260.49" stroke="#707070" stroke-width="1"/>
<text x="449.9" y="262.26" font-size="5" text-anchor="end" fill="#222">150</text>
<line x1="451.5" y1="251.55" x2="453.5" y2="251.55" stroke="#707070" stroke-width="1"/>
<text x="449.9" y="253.33" font-size="5" text-anchor="end" fill="#222">200</text>
<line x1="451.5" y1="242.61" x2="453.5" y2="242.61" stroke="#707070" stroke-width="1"/>
<text x="449.9" y="244.39" font-size="5" text-anchor="end" fill="#222">250</text>
<line x1="451.5" y1="233.68" x2="453.5" y2="233.68" stroke="#707070" stroke-width="1"/>
<text x="449.9" y="235.45" font-size="5" text-anchor="end" fill="#222">300</text>
<line x1="451.5" y1="224.74" x2="453.5" y2="224.74" stroke="#707070" stroke-width="1"/>
<text x="449.9" y="226.51" font-size="5" text-anchor="end" fill="#222">350</text>
<line x1="451.5" y1="215.8" x2="453.5" y2="215.8" stroke="#707070" stroke-width="1"/>
<text x="449.9" y="217.58" font-size="5" text-anchor="end" fill="#222">400</text>
<line x1="453.5" y1="287.3" x2="453.5" y2="289.3" stroke="#707070" stroke-width="1"/>
<line x1="482.5" y1="287.3" x2="482.5" y2="289.3" stroke="#707070" stroke-width="1"/>
<line x1="511.5" y1="287.3" x2="511.5" y2="289.3" stroke="#707070" stroke-width="1"/>
<line x1="468" y1="236.36" x2="468" y2="243.51" stroke="#555" stroke-width="0.8"/>
<line x1="466.8" y1="236.36" x2="469.2" y2="236.36" stroke="#555" stroke-width="0.8"/>
<rect x="461.05" y="243.96" width="13.9" height="43.34" fill="#fff" stroke="#111" stroke-width="0.9"/>
<line x1="497" y1="220.27" x2="497" y2="222.95" stroke="#555" stroke-width="0.8"/>
<line x1="495.8" y1="220.27" x2="498.2" y2="220.27" stroke="#555" stroke-width="0.8"/>
<rect x="489.6" y="222.95" width="14.8" height="64.35" fill="#000"/>
<text x="468" y="295.93" font-size="4.6" text-anchor="middle" fill="#222">MiGR1</text>
<text x="497" y="295.93" font-size="4.6" text-anchor="middle" fill="#222">BMI1</text>
<text x="437.2" y="253.37" font-size="5.12" text-anchor="middle" transform="rotate(-90 437.2 251.55)" fill="#222">2nd CFCs/total 1st CFCs</text>
<text x="389.5" y="215.18" font-size="8.1" text-anchor="middle">1998-079</text>
<line x1="414.9" y1="255.1" x2="425.3" y2="255.1" stroke="#000" stroke-width="2.2"/>
<polygon points="423.7,251.9 430.3,255.1 423.7,258.3" fill="#000" stroke="none" stroke-width="1"/>
<line x1="354.1" y1="311.6" x2="354.1" y2="384" stroke="#707070" stroke-width="1"/>
<line x1="354.1" y1="384" x2="415.3" y2="384" stroke="#707070" stroke-width="1"/>
<line x1="352.1" y1="384" x2="354.1" y2="384" stroke="#707070" stroke-width="1"/>
<text x="350.5" y="385.77" font-size="5" text-anchor="end" fill="#222">0</text>
<line x1="352.1" y1="375.96" x2="354.1" y2="375.96" stroke="#707070" stroke-width="1"/>
<text x="350.5" y="377.73" font-size="5" text-anchor="end" fill="#222">10</text>
<line x1="352.1" y1="367.91" x2="354.1" y2="367.91" stroke="#707070" stroke-width="1"/>
<text x="350.5" y="369.69" font-size="5" text-anchor="end" fill="#222">20</text>
<line x1="352.1" y1="359.87" x2="354.1" y2="359.87" stroke="#707070" stroke-width="1"/>
<text x="350.5" y="361.64" font-size="5" text-anchor="end" fill="#222">30</text>
<line x1="352.1" y1="351.82" x2="354.1" y2="351.82" stroke="#707070" stroke-width="1"/>
<text x="350.5" y="353.6" font-size="5" text-anchor="end" fill="#222">40</text>
<line x1="352.1" y1="343.78" x2="354.1" y2="343.78" stroke="#707070" stroke-width="1"/>
<text x="350.5" y="345.55" font-size="5" text-anchor="end" fill="#222">50</text>
<line x1="352.1" y1="335.73" x2="354.1" y2="335.73" stroke="#707070" stroke-width="1"/>
<text x="350.5" y="337.51" font-size="5" text-anchor="end" fill="#222">60</text>
<line x1="352.1" y1="327.69" x2="354.1" y2="327.69" stroke="#707070" stroke-width="1"/>
<text x="350.5" y="329.46" font-size="5" text-anchor="end" fill="#222">70</text>
<line x1="352.1" y1="319.64" x2="354.1" y2="319.64" stroke="#707070" stroke-width="1"/>
<text x="350.5" y="321.42" font-size="5" text-anchor="end" fill="#222">80</text>
<line x1="352.1" y1="311.6" x2="354.1" y2="311.6" stroke="#707070" stroke-width="1"/>
<text x="350.5" y="313.38" font-size="5" text-anchor="end" fill="#222">90</text>
<line x1="354.1" y1="384" x2="354.1" y2="386" stroke="#707070" stroke-width="1"/>
<line x1="384.7" y1="384" x2="384.7" y2="386" stroke="#707070" stroke-width="1"/>
<line x1="415.3" y1="384" x2="415.3" y2="386" stroke="#707070" stroke-width="1"/>
<line x1="369.4" y1="332.52" x2="369.4" y2="342.97" stroke="#555" stroke-width="0.8"/>
<line x1="368.2" y1="332.52" x2="370.6" y2="332.52" stroke="#555" stroke-width="0.8"/>
<rect x="362.45" y="343.42" width="13.9" height="40.58" fill="#fff" stroke="#111" stroke-width="0.9"/>
<line x1="400" y1="318.04" x2="400" y2="323.67" stroke="#555" stroke-width="0.8"/>
<line x1="398.8" y1="318.04" x2="401.2" y2="318.04" stroke="#555" stroke-width="0.8"/>
<rect x="392.6" y="323.67" width="14.8" height="60.33" fill="#000"/>
<text x="369.4" y="391.43" font-size="4.6" text-anchor="middle" fill="#222">MiGR1</text>
<text x="400" y="391.43" font-size="4.6" text-anchor="middle" fill="#222">BMI1</text>
<text x="341" y="349.57" font-size="5" text-anchor="middle" transform="rotate(-90 341 347.8)" fill="#222">CFCs/5000 cells</text>
<line x1="453.5" y1="311.8" x2="453.5" y2="383.6" stroke="#707070" stroke-width="1"/>
<line x1="453.5" y1="383.6" x2="511.5" y2="383.6" stroke="#707070" stroke-width="1"/>
<line x1="451.5" y1="383.6" x2="453.5" y2="383.6" stroke="#707070" stroke-width="1"/>
<text x="449.9" y="385.38" font-size="5" text-anchor="end" fill="#222">0</text>
<line x1="451.5" y1="374.62" x2="453.5" y2="374.62" stroke="#707070" stroke-width="1"/>
<text x="449.9" y="376.4" font-size="5" text-anchor="end" fill="#222">20</text>
<line x1="451.5" y1="365.65" x2="453.5" y2="365.65" stroke="#707070" stroke-width="1"/>
<text x="449.9" y="367.43" font-size="5" text-anchor="end" fill="#222">40</text>
<line x1="451.5" y1="356.68" x2="453.5" y2="356.68" stroke="#707070" stroke-width="1"/>
<text x="449.9" y="358.45" font-size="5" text-anchor="end" fill="#222">60</text>
<line x1="451.5" y1="347.7" x2="453.5" y2="347.7" stroke="#707070" stroke-width="1"/>
<text x="449.9" y="349.48" font-size="5" text-anchor="end" fill="#222">80</text>
<line x1="451.5" y1="338.73" x2="453.5" y2="338.73" stroke="#707070" stroke-width="1"/>
<text x="449.9" y="340.5" font-size="5" text-anchor="end" fill="#222">100</text>
<line x1="451.5" y1="329.75" x2="453.5" y2="329.75" stroke="#707070" stroke-width="1"/>
<text x="449.9" y="331.52" font-size="5" text-anchor="end" fill="#222">120</text>
<line x1="451.5" y1="320.78" x2="453.5" y2="320.78" stroke="#707070" stroke-width="1"/>
<text x="449.9" y="322.55" font-size="5" text-anchor="end" fill="#222">140</text>
<line x1="451.5" y1="311.8" x2="453.5" y2="311.8" stroke="#707070" stroke-width="1"/>
<text x="449.9" y="313.57" font-size="5" text-anchor="end" fill="#222">160</text>
<line x1="453.5" y1="383.6" x2="453.5" y2="385.6" stroke="#707070" stroke-width="1"/>
<line x1="482.5" y1="383.6" x2="482.5" y2="385.6" stroke="#707070" stroke-width="1"/>
<line x1="511.5" y1="383.6" x2="511.5" y2="385.6" stroke="#707070" stroke-width="1"/>
<line x1="468" y1="375.52" x2="468" y2="376.87" stroke="#555" stroke-width="0.8"/>
<line x1="466.8" y1="375.52" x2="469.2" y2="375.52" stroke="#555" stroke-width="0.8"/>
<rect x="461.05" y="377.32" width="13.9" height="6.28" fill="#fff" stroke="#111" stroke-width="0.9"/>
<line x1="497" y1="317.19" x2="497" y2="333.79" stroke="#555" stroke-width="0.8"/>
<line x1="495.8" y1="317.19" x2="498.2" y2="317.19" stroke="#555" stroke-width="0.8"/>
<rect x="489.6" y="333.79" width="14.8" height="49.81" fill="#000"/>
<text x="468" y="391.43" font-size="4.6" text-anchor="middle" fill="#222">MiGR1</text>
<text x="497" y="391.43" font-size="4.6" text-anchor="middle" fill="#222">BMI1</text>
<text x="436.4" y="347.52" font-size="5.12" text-anchor="middle" transform="rotate(-90 436.4 345.7)" fill="#222">2nd CFCs/total 1st CFCs</text>
<text x="389.6" y="311.58" font-size="8.1" text-anchor="middle">1996-023</text>
<line x1="414.9" y1="350.9" x2="425.5" y2="350.9" stroke="#000" stroke-width="2.2"/>
<polygon points="423.9,347.7 430.5,350.9 423.9,354.1" fill="#000" stroke="none" stroke-width="1"/>
<line x1="357.1" y1="408.4" x2="357.1" y2="480.3" stroke="#707070" stroke-width="1"/>
<line x1="357.1" y1="480.3" x2="416.5" y2="480.3" stroke="#707070" stroke-width="1"/>
<line x1="355.1" y1="480.3" x2="357.1" y2="480.3" stroke="#707070" stroke-width="1"/>
<text x="353.5" y="482.07" font-size="5" text-anchor="end" fill="#222">0</text>
<line x1="355.1" y1="470.03" x2="357.1" y2="470.03" stroke="#707070" stroke-width="1"/>
<text x="353.5" y="471.8" font-size="5" text-anchor="end" fill="#222">50</text>
<line x1="355.1" y1="459.76" x2="357.1" y2="459.76" stroke="#707070" stroke-width="1"/>
<text x="353.5" y="461.53" font-size="5" text-anchor="end" fill="#222">100</text>
<line x1="355.1" y1="449.49" x2="357.1" y2="449.49" stroke="#707070" stroke-width="1"/>
<text x="353.5" y="451.26" font-size="5" text-anchor="end" fill="#222">150</text>
<line x1="355.1" y1="439.21" x2="357.1" y2="439.21" stroke="#707070" stroke-width="1"/>
<text x="353.5" y="440.99" font-size="5" text-anchor="end" fill="#222">200</text>
<line x1="355.1" y1="428.94" x2="357.1" y2="428.94" stroke="#707070" stroke-width="1"/>
<text x="353.5" y="430.72" font-size="5" text-anchor="end" fill="#222">250</text>
<line x1="355.1" y1="418.67" x2="357.1" y2="418.67" stroke="#707070" stroke-width="1"/>
<text x="353.5" y="420.45" font-size="5" text-anchor="end" fill="#222">300</text>
<line x1="355.1" y1="408.4" x2="357.1" y2="408.4" stroke="#707070" stroke-width="1"/>
<text x="353.5" y="410.17" font-size="5" text-anchor="end" fill="#222">350</text>
<line x1="357.1" y1="480.3" x2="357.1" y2="482.3" stroke="#707070" stroke-width="1"/>
<line x1="386.8" y1="480.3" x2="386.8" y2="482.3" stroke="#707070" stroke-width="1"/>
<line x1="416.5" y1="480.3" x2="416.5" y2="482.3" stroke="#707070" stroke-width="1"/>
<line x1="371.95" y1="416.82" x2="371.95" y2="421.34" stroke="#555" stroke-width="0.8"/>
<line x1="370.75" y1="416.82" x2="373.15" y2="416.82" stroke="#555" stroke-width="0.8"/>
<rect x="365" y="421.79" width="13.9" height="58.51" fill="#fff" stroke="#111" stroke-width="0.9"/>
<line x1="401.65" y1="416.21" x2="401.65" y2="416.62" stroke="#555" stroke-width="0.8"/>
<line x1="400.45" y1="416.21" x2="402.85" y2="416.21" stroke="#555" stroke-width="0.8"/>
<rect x="394.25" y="416.62" width="14.8" height="63.68" fill="#000"/>
<text x="371.95" y="488.13" font-size="4.6" text-anchor="middle" fill="#222">MiGR1</text>
<text x="401.65" y="488.13" font-size="4.6" text-anchor="middle" fill="#222">BMI1</text>
<text x="340.4" y="446.12" font-size="5" text-anchor="middle" transform="rotate(-90 340.4 444.35)" fill="#222">CFCs/5000 cells</text>
<line x1="450.7" y1="407.7" x2="450.7" y2="480.3" stroke="#707070" stroke-width="1"/>
<line x1="450.7" y1="480.3" x2="511.5" y2="480.3" stroke="#707070" stroke-width="1"/>
<line x1="448.7" y1="480.3" x2="450.7" y2="480.3" stroke="#707070" stroke-width="1"/>
<text x="447.1" y="482.07" font-size="5" text-anchor="end" fill="#222">0</text>
<line x1="448.7" y1="465.78" x2="450.7" y2="465.78" stroke="#707070" stroke-width="1"/>
<text x="447.1" y="467.56" font-size="5" text-anchor="end" fill="#222">5</text>
<line x1="448.7" y1="451.26" x2="450.7" y2="451.26" stroke="#707070" stroke-width="1"/>
<text x="447.1" y="453.03" font-size="5" text-anchor="end" fill="#222">10</text>
<line x1="448.7" y1="436.74" x2="450.7" y2="436.74" stroke="#707070" stroke-width="1"/>
<text x="447.1" y="438.51" font-size="5" text-anchor="end" fill="#222">15</text>
<line x1="448.7" y1="422.22" x2="450.7" y2="422.22" stroke="#707070" stroke-width="1"/>
<text x="447.1" y="423.99" font-size="5" text-anchor="end" fill="#222">20</text>
<line x1="448.7" y1="407.7" x2="450.7" y2="407.7" stroke="#707070" stroke-width="1"/>
<text x="447.1" y="409.47" font-size="5" text-anchor="end" fill="#222">25</text>
<line x1="450.7" y1="480.3" x2="450.7" y2="482.3" stroke="#707070" stroke-width="1"/>
<line x1="481.1" y1="480.3" x2="481.1" y2="482.3" stroke="#707070" stroke-width="1"/>
<line x1="511.5" y1="480.3" x2="511.5" y2="482.3" stroke="#707070" stroke-width="1"/>
<line x1="465.9" y1="476.52" x2="465.9" y2="478.27" stroke="#555" stroke-width="0.8"/>
<line x1="464.7" y1="476.52" x2="467.1" y2="476.52" stroke="#555" stroke-width="0.8"/>
<rect x="458.95" y="478.72" width="13.9" height="1.58" fill="#fff" stroke="#111" stroke-width="0.9"/>
<line x1="496.3" y1="417.28" x2="496.3" y2="423.67" stroke="#555" stroke-width="0.8"/>
<line x1="495.1" y1="417.28" x2="497.5" y2="417.28" stroke="#555" stroke-width="0.8"/>
<rect x="488.9" y="423.67" width="14.8" height="56.63" fill="#000"/>
<text x="465.9" y="488.13" font-size="4.6" text-anchor="middle" fill="#222">MiGR1</text>
<text x="496.3" y="488.13" font-size="4.6" text-anchor="middle" fill="#222">BMI1</text>
<text x="436.6" y="445.82" font-size="5.12" text-anchor="middle" transform="rotate(-90 436.6 444)" fill="#222">2nd CFCs/total 1st CFCs</text>
<text x="388.9" y="407.58" font-size="8.1" text-anchor="middle">2002-110</text>
<line x1="414.9" y1="440.7" x2="425.5" y2="440.7" stroke="#000" stroke-width="2.2"/>
<polygon points="423.9,437.5 430.5,440.7 423.9,443.9" fill="#000" stroke="none" stroke-width="1"/>
</svg>
</body></html>
